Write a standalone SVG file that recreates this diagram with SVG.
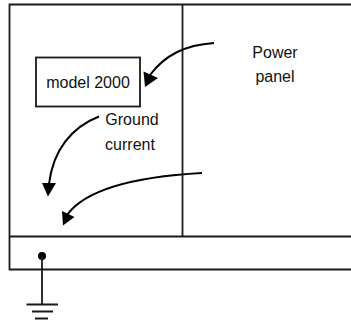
<svg xmlns="http://www.w3.org/2000/svg" width="351" height="325" viewBox="0 0 351 325">
<style>
.l{fill:none;stroke:#1a1a1a;stroke-width:1.8}
.c{fill:none;stroke:#000;stroke-width:2}
.a{fill:#000;stroke:none}
text{font-family:"Liberation Sans",Arial,sans-serif;font-size:16px;fill:#111;text-anchor:middle}
</style>
<rect width="351" height="325" fill="#fff"/>
<g id="panel">
<path class="l" d="M351 4.500H9.500V269.500H351"/>
<path class="l" d="M9.500 236.500H351"/>
<path class="l" d="M182.500 4.500V236.500"/>
</g>
<g id="model"><rect class="l" x="36" y="57.500" width="104" height="49"/><text x="88" y="88">model 2000</text></g>
<g id="power-label"><text x="275" y="58">Power</text><text x="275" y="82">panel</text></g>
<g id="ground-label"><text x="132" y="125">Ground</text><text x="130" y="150">current</text></g>
<g id="ground">
<circle cx="42" cy="256" r="4" fill="#000"/>
<path class="l" d="M42 256V304.500M26.500 304.500H58M32 311.500H53M35 318.500H48"/>
</g>
<g id="connectors">
<path class="c" d="M214 43C185 45 165 55 150 75"/>
<polygon class="a" points="145,87 158,78 143.500,71.500"/>
<path class="c" d="M99 116.500C72 127 53 150 49 184"/>
<polygon class="a" points="48,196.500 56,183 42,183"/>
<path class="c" d="M202 173C130 177 85 190 67 215"/>
<polygon class="a" points="63,225.500 74.500,217 62,211"/>
</g>
</svg>
